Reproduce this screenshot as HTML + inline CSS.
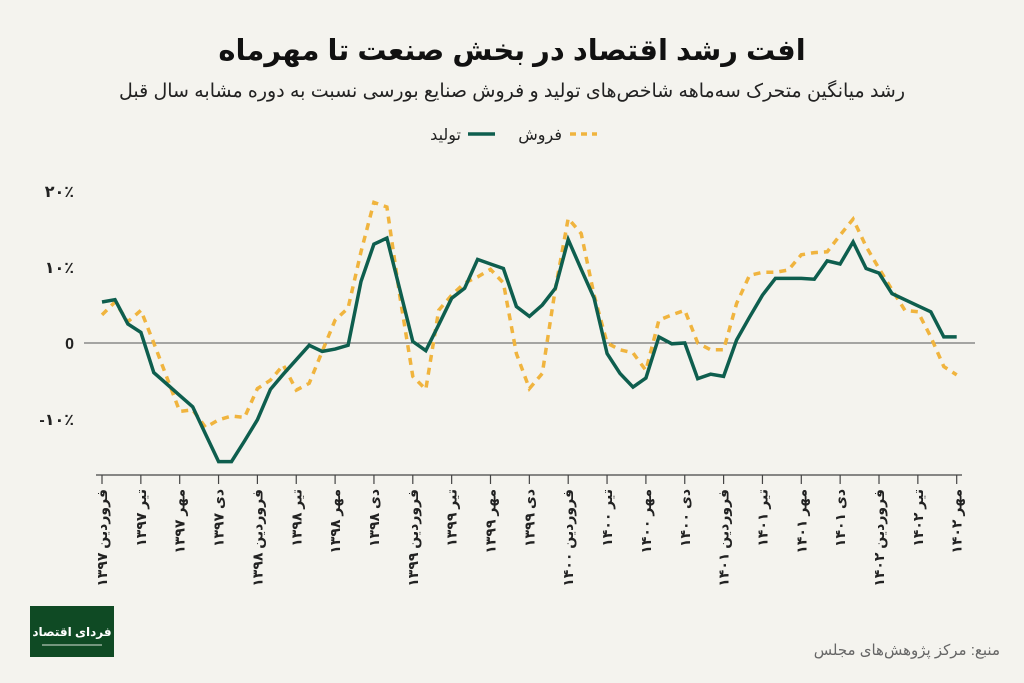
<!DOCTYPE html>
<html lang="fa"><head><meta charset="utf-8">
<style>
html,body{margin:0;padding:0;background:#f4f3ee;}
body{width:1024px;height:683px;overflow:hidden;position:relative;font-family:"Liberation Sans","Noto Sans CJK SC","DejaVu Sans",sans-serif;}
</style></head>
<body>
<svg width="1024" height="683" viewBox="0 0 1024 683" xmlns="http://www.w3.org/2000/svg" style="position:absolute;left:0;top:0">
  <rect x="0" y="0" width="1024" height="683" fill="#f4f3ee"/>
  <text x="512" y="60" text-anchor="middle" direction="rtl" font-size="29" font-weight="bold" fill="#111">افت رشد اقتصاد در بخش صنعت تا مهرماه</text>
  <text x="512" y="97" text-anchor="middle" direction="rtl" font-size="19" fill="#222">رشد میانگین متحرک سه‌ماهه شاخص‌های تولید و فروش صنایع بورسی نسبت به دوره مشابه سال قبل</text>
  <g>
    <g>
      <line x1="468" y1="134" x2="495" y2="134" stroke="#0e5e4e" stroke-width="3.5"/>
      <text x="461" y="140" text-anchor="start" direction="rtl" font-size="16" fill="#222">تولید</text>
    </g>
    <g>
      <line x1="570" y1="134" x2="597" y2="134" stroke="#f0b43e" stroke-width="3.5" stroke-dasharray="6,5"/>
      <text x="562" y="140" text-anchor="start" direction="rtl" font-size="16" fill="#222">فروش</text>
    </g>
  </g>
  <g id="yaxis"></g>
  <line x1="84" y1="343" x2="975" y2="343" stroke="#555" stroke-width="1"/>
  <g id="xaxis"></g>
  <g id="series"></g>
  <rect x="30" y="606" width="84" height="51" fill="#0f4a24"/>
  <text x="72" y="636" text-anchor="middle" direction="rtl" font-size="12" font-weight="bold" fill="#fff">فردای اقتصاد</text>
  <line x1="42" y1="645" x2="102" y2="645" stroke="#d9e3d9" stroke-width="1"/>
  <text x="1000" y="655" text-anchor="start" direction="rtl" font-size="15" fill="#666">منبع: مرکز پژوهش‌های مجلس</text>
</svg>
<script>
const tickLabels = ["فروردین ۱۳۹۷","تیر ۱۳۹۷","مهر ۱۳۹۷","دی ۱۳۹۷","فروردین ۱۳۹۸","تیر ۱۳۹۸","مهر ۱۳۹۸","دی ۱۳۹۸","فروردین ۱۳۹۹","تیر ۱۳۹۹","مهر ۱۳۹۹","دی ۱۳۹۹","فروردین ۱۴۰۰","تیر ۱۴۰۰","مهر ۱۴۰۰","دی ۱۴۰۰","فروردین ۱۴۰۱","تیر ۱۴۰۱","مهر ۱۴۰۱","دی ۱۴۰۱","فروردین ۱۴۰۲","تیر ۱۴۰۲","مهر ۱۴۰۲"];
const yTicks = [20,10,0,-10];
const yTickLabels = ["۲۰٪","۱۰٪","0","-۱۰٪"];
const production = [5.4,5.7,2.5,1.4,-3.9,-5.4,-6.9,-8.4,-12,-15.6,-15.6,-12.9,-10.1,-6.1,-4.1,-2.2,-0.3,-1.1,-0.8,-0.3,8.1,13.0,13.8,7.0,0.2,-1.0,2.4,5.9,7.2,11.0,10.4,9.8,4.8,3.5,5.0,7.2,13.6,9.7,5.9,-1.4,-4.0,-5.8,-4.6,0.8,-0.1,0.0,-4.7,-4.1,-4.4,0.4,3.4,6.3,8.5,8.5,8.5,8.4,10.8,10.4,13.3,9.8,9.2,6.5,5.7,4.9,4.1,0.8,0.8];
const sales = [3.7,5.4,2.8,4.3,0,-4.5,-9.0,-8.8,-11.1,-10.1,-9.6,-9.8,-6.0,-4.9,-2.9,-6.2,-5.3,-1.1,3.0,4.6,12.0,18.5,17.9,6.1,-4.4,-6.1,4.3,6.3,7.9,8.7,9.7,7.9,-1.4,-6.0,-4.0,7.1,16.4,14.4,6.3,0,-0.9,-1.3,-3.6,3.0,3.7,4.3,0,-0.9,-0.9,5.2,8.9,9.3,9.3,9.6,11.6,11.9,12.0,14.2,16.3,12.7,9.8,7.0,4.3,4.1,0.8,-3.1,-4.2];

const NS="http://www.w3.org/2000/svg";
const x0=102, x1=956.7, nPts=production.length;
function xScale(i){return x0+(x1-x0)*i/(nPts-1);}
function yScale(v){return 343-v*7.6;}
function tickX(k){return x0+(x1-x0)*k/(tickLabels.length-1);}

const ya=document.getElementById('yaxis');
yTicks.forEach((v,k)=>{
  const t=document.createElementNS(NS,'text');
  
  
  t.setAttribute('x',74);t.setAttribute('y',yScale(v)+6);
  t.setAttribute('text-anchor','end');t.setAttribute('font-size','16');t.setAttribute('font-weight','bold');t.setAttribute('fill','#222');
  t.textContent=yTickLabels[k];ya.appendChild(t);
});

const xa=document.getElementById('xaxis');
const base=document.createElementNS(NS,'line');


base.setAttribute('x1',96);base.setAttribute('x2',962);base.setAttribute('y1',475);base.setAttribute('y2',475);
base.setAttribute('stroke','#444');base.setAttribute('stroke-width','1.2');xa.appendChild(base);
tickLabels.forEach((lab,k)=>{
  const x=tickX(k);
  const l=document.createElementNS(NS,'line');
  
  
  l.setAttribute('x1',x);l.setAttribute('x2',x);l.setAttribute('y1',475);l.setAttribute('y2',484);
  l.setAttribute('stroke','#444');l.setAttribute('stroke-width','1.2');xa.appendChild(l);
  const t=document.createElementNS(NS,'text');
  
  
  t.setAttribute('x',0);t.setAttribute('y',0);
  t.setAttribute('direction','rtl');t.setAttribute('text-anchor','start');
  t.setAttribute('font-size','14');t.setAttribute('font-weight','bold');t.setAttribute('fill','#222');
  t.setAttribute('transform','translate('+(x+5)+',489) rotate(-90)');
  t.textContent=lab;xa.appendChild(t);
});

const sg=document.getElementById('series');
function drawLine(arr,color,dash,name){
  const p=document.createElementNS(NS,'polyline');
  
  
  p.setAttribute('points',arr.map((v,i)=>xScale(i).toFixed(1)+','+yScale(v).toFixed(1)).join(' '));
  p.setAttribute('fill','none');p.setAttribute('stroke',color);p.setAttribute('stroke-width','3.5');
  p.setAttribute('stroke-linejoin','miter');
  if(dash)p.setAttribute('stroke-dasharray',dash);
  sg.appendChild(p);
}
drawLine(sales,'#f0b43e','7,6','sales-line');
drawLine(production,'#0e5e4e',null,'production-line');
</script>
</body></html>
